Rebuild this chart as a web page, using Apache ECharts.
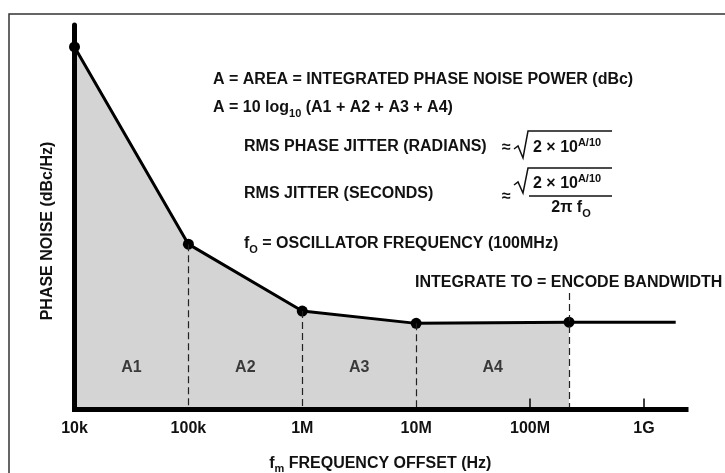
<!DOCTYPE html>
<html>
<head>
<meta charset="utf-8">
<script src="https://cdn.jsdelivr.net/npm/echarts@6/dist/echarts.min.js"></script>
<style>
  html, body { margin: 0; padding: 0; background: #fff; }
  #chart { width: 725px; height: 473px; }
</style>
</head>
<body>
<div id="chart"></div>
<script>
// marked points: frequency offset (Hz) and phase noise (dBc/Hz)
const freqs = [1e4, 1e5, 1e6, 1e7, 2.2e8];
const noise = [-65.7, -117, -134.4, -137.6, -137.3];
// flat part past the encode bandwidth (not integrated)
const tailFreqs = [2.2e8, 1.9e9];
const tailNoise = [-137.3, -137.3];
// x axis ticks
const tickValues = [1e4, 1e5, 1e6, 1e7, 1e8, 1e9];
const tickLabels = ['10k', '100k', '1M', '10M', '100M', '1G'];
const tickMarks = [1e8, 1e9];
// area names and where they sit
const areaNames = ['A1', 'A2', 'A3', 'A4'];
const areaLabelLevel = -149.2;
// top of the "integrate to" marker line
const bandwidthMarkTop = -129.7;

const yMin = -160, yMax = -60;
const xMin = 1e4, xMax = 2.34e9;

const FONT = '"Liberation Sans", Arial, Helvetica, sans-serif';
const INK = '#111';

const chart = echarts.init(document.getElementById('chart'));

// dashed drop lines under each point, the last one goes above the point
const dropLines = [];
for (let i = 1; i < freqs.length; i++) {
  const top = i === freqs.length - 1 ? bandwidthMarkTop : noise[i];
  dropLines.push([{ coord: [freqs[i], top] }, { coord: [freqs[i], yMin] }]);
}

// A1..A4 in the middle of each band (log middle)
const areaLabelData = areaNames.map((n, i) => ({
  name: n,
  value: [Math.sqrt(freqs[i] * freqs[i + 1]), areaLabelLevel]
}));

const rich = {
  m: { fontSize: 16, fontWeight: 'bold', fontFamily: FONT, lineHeight: 22, fill: INK, color: INK },
  sub: { fontSize: 11, fontWeight: 'bold', fontFamily: FONT, verticalAlign: 'bottom', fill: INK, color: INK },
  sup: { fontSize: 11, fontWeight: 'bold', fontFamily: FONT, verticalAlign: 'top', fill: INK, color: INK }
};

function txt(text, x, y, align) {
  return {
    type: 'text', x: x, y: y, z: 20,
    style: {
      text: text, rich: rich, fill: INK,
      fontSize: 16, fontWeight: 'bold', fontFamily: FONT,
      textAlign: align || 'left', align: align || 'left',
      textVerticalAlign: 'middle', verticalAlign: 'middle'
    }
  };
}

function stroke(points) {
  return {
    type: 'polyline', z: 20,
    shape: { points: points },
    style: { stroke: INK, lineWidth: 1.5, fill: null }
  };
}

const option = {
  animation: false,
  backgroundColor: '#fff',
  grid: {
    left: 74.5, right: 39, top: 25, bottom: 63.5,
    containLabel: false, outerBoundsMode: 'none'
  },
  xAxis: {
    type: 'log',
    z: 10,
    min: xMin,
    max: xMax,
    name: '{m|f}{sub|m}{m| FREQUENCY OFFSET (Hz)}',
    nameLocation: 'middle',
    nameGap: 43,
    nameTextStyle: { rich: rich },
    axisLine: { lineStyle: { color: '#000', width: 5, cap: 'square' } },
    axisTick: {
      show: true, inside: true, length: 11,
      customValues: tickMarks,
      lineStyle: { color: '#000', width: 1.5 }
    },
    axisLabel: {
      customValues: tickValues,
      margin: 11,
      fontSize: 16, fontWeight: 'bold', fontFamily: FONT, color: INK,
      formatter: v => {
        const i = tickValues.findIndex(t => Math.abs(t - v) / t < 1e-6);
        return i < 0 ? '' : tickLabels[i];
      }
    },
    splitLine: { show: false },
    minorTick: { show: false }
  },
  yAxis: {
    type: 'value',
    z: 10,
    min: yMin,
    max: yMax,
    axisLine: { show: true, lineStyle: { color: '#000', width: 5 } },
    axisTick: { show: false },
    axisLabel: { show: false },
    splitLine: { show: false }
  },
  series: [
    {
      type: 'line',
      data: freqs.map((f, i) => [f, noise[i]]),
      symbol: 'circle',
      symbolSize: 11,
      itemStyle: { color: '#000' },
      lineStyle: { color: '#000', width: 3 },
      areaStyle: { color: '#d4d4d4', opacity: 1, origin: 'start' },
      z: 3
    },
    {
      type: 'line',
      data: tailFreqs.map((f, i) => [f, tailNoise[i]]),
      symbol: 'none',
      lineStyle: { color: '#000', width: 3 },
      z: 4,
      markLine: {
        z: 4,
        silent: true,
        symbol: ['none', 'none'],
        label: { show: false },
        lineStyle: { color: '#222', width: 1.2, type: [7, 4] },
        data: dropLines
      }
    },
    {
      type: 'scatter',
      data: areaLabelData,
      symbolSize: 1,
      itemStyle: { color: 'rgba(0,0,0,0)' },
      label: {
        show: true, position: 'inside', formatter: '{b}',
        fontSize: 16, fontWeight: 'bold', fontFamily: FONT, color: INK
      },
      z: 6
    }
  ],
  graphic: [
    // frame round the figure, runs off the right and bottom edge
    {
      type: 'rect', z: 1,
      shape: { x: 9, y: 14, width: 760, height: 520 },
      style: { fill: null, stroke: '#333', lineWidth: 1.5 }
    },
    {
      type: 'text', x: 48, y: 231, rotation: Math.PI / 2, z: 20,
      style: {
        text: 'PHASE NOISE (dBc/Hz)', fill: INK,
        fontSize: 16, fontWeight: 'bold', fontFamily: FONT,
        textAlign: 'center', align: 'center',
        textVerticalAlign: 'middle', verticalAlign: 'middle'
      }
    },
    txt('{m|A = AREA = INTEGRATED PHASE NOISE POWER (dBc)}', 213, 80),
    txt('{m|A = 10 log}{sub|10}{m| (A1 + A2 + A3 + A4)}', 213, 108),
    txt('{m|RMS PHASE JITTER (RADIANS)}', 244, 147),
    txt('{m|≈}', 502, 148),
    stroke([[514, 149], [518, 146], [523, 158], [528, 131], [612, 131]]),
    txt('{m|2 × 10}{sup|A/10}', 533, 148),
    txt('{m|RMS JITTER (SECONDS)}', 244, 194),
    txt('{m|≈}', 502, 197),
    stroke([[514, 185], [518, 182], [523, 193], [528, 168], [612, 168]]),
    txt('{m|2 × 10}{sup|A/10}', 533, 184),
    {
      type: 'line', z: 20,
      shape: { x1: 529, y1: 196, x2: 612, y2: 196 },
      style: { stroke: INK, lineWidth: 1.5 }
    },
    txt('{m|2π f}{sub|O}', 571, 208, 'center'),
    txt('{m|f}{sub|O}{m| = OSCILLATOR FREQUENCY (100MHz)}', 244, 244),
    txt('{m|INTEGRATE TO = ENCODE BANDWIDTH}', 415, 283)
  ]
};

chart.setOption(option);
</script>
</body>
</html>
